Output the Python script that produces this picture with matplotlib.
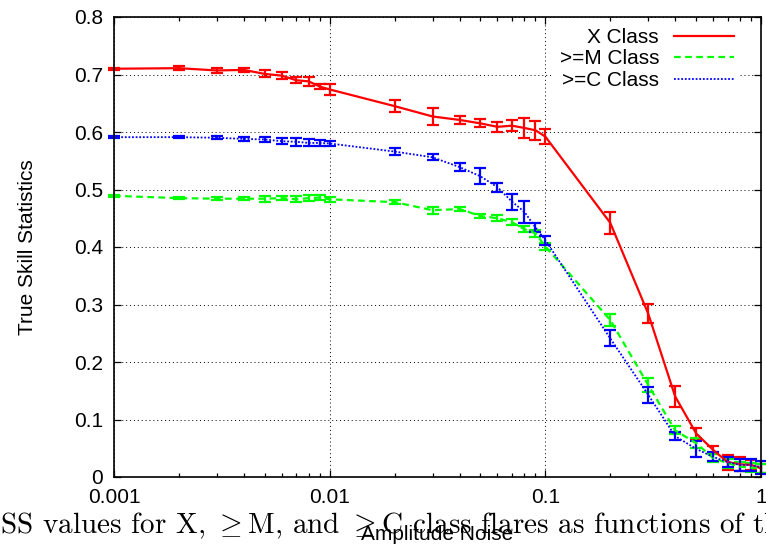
import matplotlib
matplotlib.use("Agg")
import matplotlib.pyplot as plt
from matplotlib.ticker import FixedLocator, FormatStrFormatter, LogLocator, NullFormatter

plt.rcParams['font.family'] = ['Liberation Sans', 'DejaVu Sans']
plt.rcParams['mathtext.fontset'] = 'cm'

noise = [0.001, 0.002, 0.003, 0.004, 0.005, 0.006, 0.007, 0.008, 0.009,
         0.01, 0.02, 0.03, 0.04, 0.05, 0.06, 0.07, 0.08, 0.09,
         0.1, 0.2, 0.3, 0.4, 0.5, 0.6, 0.7, 0.8, 0.9, 1.0]

tss_x = [0.710, 0.711, 0.707, 0.708, 0.701, 0.698, 0.690, 0.688, 0.679,
         0.674, 0.645, 0.627, 0.621, 0.615, 0.609, 0.611, 0.607, 0.603,
         0.592, 0.442, 0.284, 0.140, 0.076, 0.047, 0.026, 0.022, 0.021, 0.015]
err_x = [0.002, 0.003, 0.005, 0.004, 0.006, 0.006, 0.005, 0.008, 0.005,
         0.009, 0.010, 0.014, 0.007, 0.007, 0.009, 0.010, 0.017, 0.017,
         0.013, 0.019, 0.017, 0.019, 0.010, 0.007, 0.013, 0.012, 0.009, 0.008]

tss_m = [0.489, 0.485, 0.484, 0.484, 0.484, 0.485, 0.483, 0.485, 0.486,
         0.483, 0.478, 0.464, 0.466, 0.454, 0.450, 0.443, 0.431, 0.424,
         0.401, 0.273, 0.160, 0.081, 0.059, 0.033, 0.024, 0.018, 0.016, 0.015]
err_m = [0.002, 0.002, 0.003, 0.003, 0.005, 0.004, 0.005, 0.005, 0.004,
         0.004, 0.004, 0.006, 0.004, 0.004, 0.005, 0.005, 0.005, 0.006,
         0.006, 0.010, 0.012, 0.007, 0.008, 0.007, 0.008, 0.008, 0.008, 0.008]

tss_c = [0.591, 0.591, 0.590, 0.588, 0.587, 0.584, 0.583, 0.581, 0.581,
         0.580, 0.566, 0.556, 0.539, 0.523, 0.504, 0.479, 0.461, 0.434,
         0.412, 0.241, 0.143, 0.071, 0.049, 0.035, 0.026, 0.021, 0.021, 0.017]
err_c = [0.002, 0.002, 0.003, 0.003, 0.004, 0.005, 0.007, 0.006, 0.005,
         0.004, 0.006, 0.005, 0.007, 0.014, 0.008, 0.014, 0.019, 0.008,
         0.008, 0.014, 0.014, 0.007, 0.014, 0.008, 0.009, 0.010, 0.011, 0.011]

labels = ["X Class", ">=M Class", ">=C Class"]
y_ticks = [0, 0.1, 0.2, 0.3, 0.4, 0.5, 0.6, 0.7, 0.8]
x_ticks = [0.001, 0.01, 0.1, 1]
caption = r"TSS values for X, $\geq$M, and $\geq$C class flares as functions of the"

fig = plt.figure(figsize=(7.66, 5.46), dpi=100)
ax = fig.add_axes([114/766, 69/546, 647/766, 460/546])
ax.set_axisbelow(True)

c1 = ax.errorbar(noise, tss_x, yerr=err_x, color='#ff0000', lw=1.6, ls='-',
                 elinewidth=1.6, capsize=4.5, capthick=1.6, clip_on=False)
c2 = ax.errorbar(noise, tss_m, yerr=err_m, color='#00ff00', lw=1.6, ls=(0, (3, 2)),
                 elinewidth=1.6, capsize=4.5, capthick=1.6, clip_on=False)
c3 = ax.errorbar(noise, tss_c, yerr=err_c, color='#0000ff', lw=1.3, ls=(0, (1, 1)),
                 elinewidth=1.6, capsize=4.5, capthick=1.6, clip_on=False)

ax.set_xscale('log')
ax.set_xlim(0.001, 1)
ax.set_ylim(0, 0.8)
ax.xaxis.set_major_locator(FixedLocator(x_ticks))
ax.xaxis.set_major_formatter(FormatStrFormatter('%g'))
ax.xaxis.set_minor_locator(LogLocator(base=10, subs=range(2, 10)))
ax.xaxis.set_minor_formatter(NullFormatter())
ax.yaxis.set_major_locator(FixedLocator(y_ticks))
ax.yaxis.set_major_formatter(FormatStrFormatter('%g'))

ax.tick_params(which='both', direction='in', top=True, right=True, labelsize=15, pad=8)
ax.tick_params(which='major', length=5, width=0.9)
ax.tick_params(which='minor', length=3, width=0.9)
for s in ax.spines.values():
    s.set_linewidth(1.2)

ax.grid(True, which='major', color='black', lw=0.7, ls=(0, (1, 3)))

ax.set_xlabel("Amplitude Noise", fontsize=15)
ax.set_ylabel("True Skill Statistics", fontsize=15)
ax.xaxis.set_label_coords(0.5, -0.104)
ax.yaxis.set_label_coords(-0.119, 0.5)

leg = ax.legend([c1.lines[0], c2.lines[0], c3.lines[0]], labels,
                loc='upper right', bbox_to_anchor=(0.968, 0.99),
                markerfirst=False, fontsize=15, handlelength=2.9,
                handletextpad=0.7, labelspacing=0.12, borderpad=0.3,
                borderaxespad=0, frameon=True, fancybox=False,
                facecolor='white', edgecolor='none', framealpha=1)
leg.set_zorder(2.2)

fig.text(-0.0275, 1 - 533/546, caption, family='cmr10', fontsize=21,
         ha='left', va='baseline')

fig.savefig("out.png", dpi=100)
